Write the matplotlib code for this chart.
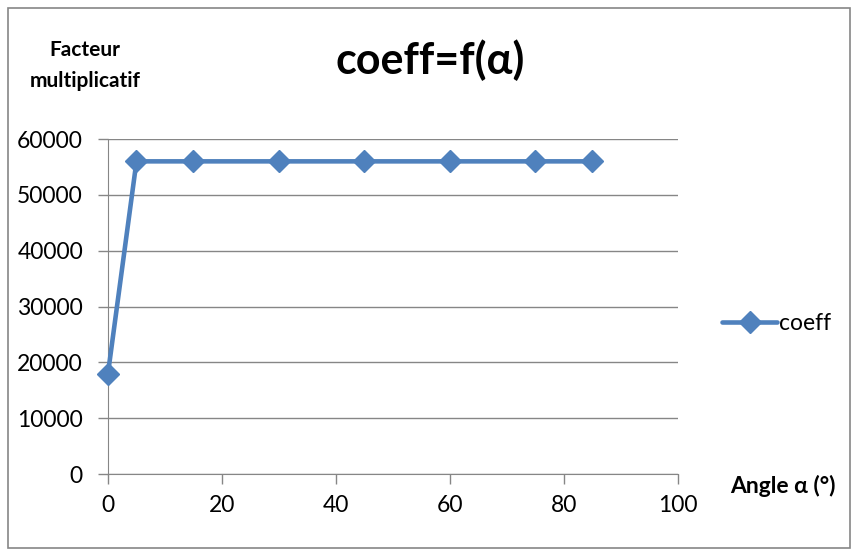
import matplotlib.pyplot as plt
from matplotlib.patches import Rectangle

# angle values (degrees) and multiplying factor
angles = [0, 5, 15, 30, 45, 60, 75, 85]
coeff = [18000, 56000, 56000, 56000, 56000, 56000, 56000, 56000]
xticks = [0, 20, 40, 60, 80, 100]
yticks = [0, 10000, 20000, 30000, 40000, 50000, 60000]

plt.rcParams['font.family'] = ['Lato', 'DejaVu Sans']
blue = '#4F81BD'
grid = '#868686'

fig = plt.figure(figsize=(8.53, 5.51), dpi=100)
ax = fig.add_axes([0.1266, 0.1397, 0.668, 0.608])

ax.plot(angles, coeff, color=blue, lw=3.3, marker='D', markersize=11,
        markeredgecolor=blue, label='coeff', solid_capstyle='round',
        clip_on=False, zorder=5)

ax.set_xlim(0, 100)
ax.set_ylim(0, 60000)
ax.set_xticks(xticks)
ax.set_yticks(yticks)
ax.yaxis.grid(True, color=grid, lw=1)
ax.set_axisbelow(True)
for s in ['top', 'right']:
    ax.spines[s].set_visible(False)
for s in ['left', 'bottom']:
    ax.spines[s].set_color(grid)
ax.tick_params(axis='both', colors=grid, labelcolor='black', labelsize=16.5,
               length=7, width=1)
ax.tick_params(axis='x', pad=8)
ax.tick_params(axis='y', pad=11)

fig.text(0.504, 0.89, 'coeff=f(α)', ha='center', va='center',
         fontsize=31, fontweight='bold')
fig.text(0.1, 0.91, 'Facteur', ha='center', va='center',
         fontsize=15, fontweight='bold')
fig.text(0.1, 0.853, 'multiplicatif', ha='center', va='center',
         fontsize=15, fontweight='bold')
fig.text(0.918, 0.118, 'Angle α (°)', ha='center', va='center',
         fontsize=16.5, fontweight='bold')

leg = fig.legend(loc='center left', bbox_to_anchor=(0.847, 0.413),
                 frameon=False, fontsize=16.5, handlelength=2.4,
                 handletextpad=0.05, borderaxespad=0, borderpad=0)

# outer chart frame
fig.patches.append(Rectangle((0.009, 0.005), 0.987, 0.98, transform=fig.transFigure,
                             fill=False, edgecolor='#868686', lw=1.2))

fig.savefig('out.png', dpi=100)
